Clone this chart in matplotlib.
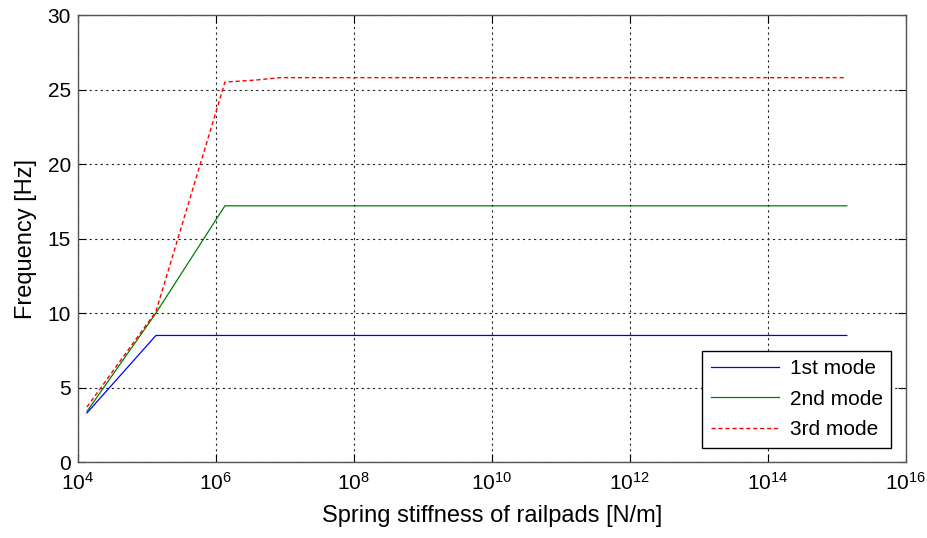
import numpy as np
import matplotlib.pyplot as plt

plt.rcParams['font.family'] = ['Liberation Sans', 'DejaVu Sans']
plt.rcParams['mathtext.fontset'] = 'custom'
plt.rcParams['mathtext.rm'] = 'Liberation Sans'
plt.rcParams['mathtext.it'] = 'Liberation Sans'
plt.rcParams['mathtext.bf'] = 'Liberation Sans'

# stiffness values [N/m]
k1 = [1.35e4, 1.35e5, 1.35e6, 1.35e7, 1.35e8, 1.35e9, 1.35e10,
      1.35e11, 1.35e12, 1.35e13, 1.35e14, 1.4e15]
f1 = [3.3, 8.5, 8.5, 8.5, 8.5, 8.5, 8.5, 8.5, 8.5, 8.5, 8.5, 8.5]

k2 = k1
f2 = [3.4, 10.0, 17.2, 17.2, 17.2, 17.2, 17.2, 17.2, 17.2, 17.2, 17.2, 17.2]

k3 = [1.35e4, 1.35e5, 1.35e6, 4.0e6, 8.5e6, 1.35e7, 1.35e8, 1.35e9,
      1.35e10, 1.35e11, 1.35e12, 1.35e13, 1.35e14, 1.35e15]
f3 = [3.7, 10.1, 25.5, 25.65, 25.8, 25.8, 25.8, 25.8, 25.8, 25.8,
      25.8, 25.8, 25.8, 25.8]

fig = plt.figure(figsize=(9.28, 5.38), dpi=100)
ax = fig.add_axes([0.084, 0.141, 0.892, 0.831])

ax.plot(k1, f1, color='#0000ff', lw=0.9, label='1st mode')
ax.plot(k2, f2, color='#008000', lw=0.9, label='2nd mode')
ax.plot(k3, f3, color='#ff0000', lw=1.0, ls=(0, (3, 2)), label='3rd mode')

ax.set_xscale('log')
ax.set_xlim(1e4, 1e16)
ax.set_ylim(0, 30)
ax.set_xticks([10.0**p for p in range(4, 17, 2)])
ax.xaxis.set_minor_locator(plt.NullLocator())
ax.set_yticks(range(0, 31, 5))

ax.grid(True, color='#222222', ls=(0, (2, 3)), lw=0.8)
ax.tick_params(direction='in', labelsize=15, length=6, top=True, right=True)
ax.tick_params(axis='x', pad=7)
ax.tick_params(axis='y', pad=5)
for s in ax.spines.values():
    s.set_color('#555555')
    s.set_linewidth(1.0)

ax.set_xlabel('Spring stiffness of railpads [N/m]', fontsize=17, labelpad=8)
ax.set_ylabel('Frequency [Hz]', fontsize=17, labelpad=8)

leg = ax.legend(loc='lower right', fontsize=15, fancybox=False,
                framealpha=1, edgecolor='black', borderaxespad=0.7,
                handlelength=3.3, handletextpad=0.5, labelspacing=0.55,
                borderpad=0.4)
leg.get_frame().set_linewidth(1.0)

fig.savefig('out.png', dpi=100)
